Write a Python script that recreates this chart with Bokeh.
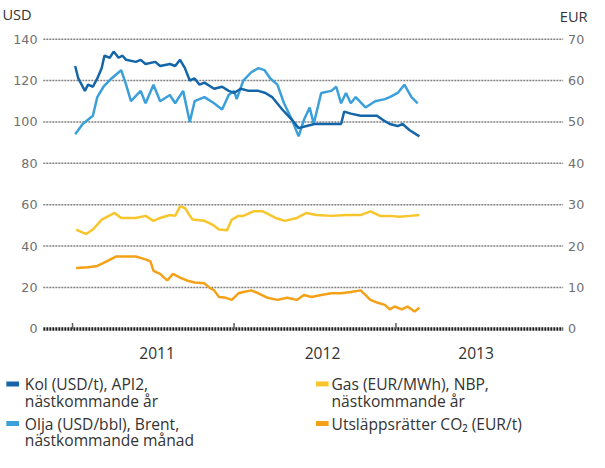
import pandas as pd
from bokeh.plotting import figure
from bokeh.models import Range1d
from bokeh.core.properties import value
from bokeh.embed import file_html
from bokeh.resources import INLINE

# ---------------- data ----------------
kol_dates = ["2011-01-07","2011-01-14","2011-01-29","2011-02-05","2011-02-16","2011-02-26","2011-03-08","2011-03-14",
             "2011-03-26","2011-04-04","2011-04-15","2011-04-24","2011-05-02","2011-05-24","2011-06-04","2011-06-15",
             "2011-07-07","2011-07-18","2011-08-09","2011-08-21","2011-09-01","2011-09-12","2011-09-23","2011-10-04",
             "2011-10-15","2011-10-26","2011-11-17","2011-12-05","2011-12-20","2012-01-01","2012-01-16","2012-02-03",
             "2012-02-25","2012-03-12","2012-03-27","2012-04-19","2012-05-11","2012-05-26","2012-06-13","2012-07-01",
             "2012-07-27","2012-08-30","2012-09-06","2012-09-21","2012-10-13","2012-11-04","2012-11-19","2012-12-02",
             "2012-12-18","2013-01-05","2013-01-16","2013-02-01","2013-02-23"]
kol = [127,121,115,118,117,121,126,132,131,134,131,132,130,129,130,128,129,127,128,127,
       130,126,120,121,118,119,116,117,115,114,116,115,115,114,112,106,101,97,98,99,
       99,99,105,104,103,103,103,101,99,98,99,96,93]

olja_dates = ["2011-01-07","2011-01-24","2011-02-16","2011-02-26","2011-03-12","2011-03-30","2011-04-21","2011-05-02",
              "2011-05-13","2011-06-04","2011-06-15","2011-07-03","2011-07-18","2011-08-09","2011-08-21","2011-09-08",
              "2011-09-23","2011-10-04","2011-10-26","2011-11-17","2011-12-05","2011-12-20","2012-01-01","2012-01-07",
              "2012-01-22","2012-02-09","2012-02-25","2012-03-10","2012-03-23","2012-04-08","2012-04-23","2012-05-11",
              "2012-05-26","2012-06-07","2012-06-20","2012-06-29","2012-07-16","2012-08-08","2012-08-19","2012-08-30",
              "2012-09-10","2012-09-21","2012-10-02","2012-10-24","2012-11-15","2012-12-07","2012-12-18","2013-01-05",
              "2013-01-20","2013-02-05","2013-02-19"]
olja = [94,99,103,112,117,121,125,118,110,115,109,118,110,113,109,115,100,110,112,109,
        106,113,115,111,120,124,126,125,121,118,109,101,93,101,107,99,114,115,117,109,
        114,109,112,107,110,111,112,114,118,112,109]

gas_dates = ["2011-01-09","2011-02-01","2011-02-16","2011-03-08","2011-04-06","2011-04-21","2011-05-24","2011-06-15",
             "2011-07-03","2011-07-18","2011-08-09","2011-08-21","2011-09-01","2011-09-12","2011-09-29","2011-10-26",
             "2011-11-13","2011-11-28","2011-12-16","2011-12-27","2012-01-11","2012-01-22","2012-02-14","2012-03-06",
             "2012-04-04","2012-04-25","2012-05-22","2012-06-13","2012-07-05","2012-08-08","2012-09-10","2012-10-13",
             "2012-11-04","2012-11-26","2012-12-18","2013-01-09","2013-02-01","2013-02-23"]
gas = [24.0,22.9,24.0,26.4,28.0,26.8,26.8,27.3,26.1,26.8,27.5,27.3,29.6,29.2,26.4,26.1,
       25.2,24.0,23.8,26.4,27.3,27.3,28.4,28.4,26.8,26.1,26.8,28.0,27.5,27.3,27.5,27.5,
       28.4,27.3,27.3,27.1,27.3,27.5]

co2_dates = ["2011-01-09","2011-02-05","2011-02-26","2011-03-19","2011-04-10","2011-05-02","2011-05-24","2011-06-15",
             "2011-06-26","2011-07-03","2011-07-18","2011-08-03","2011-08-16","2011-09-01","2011-09-16","2011-10-04",
             "2011-10-26","2011-11-06","2011-11-17","2011-11-28","2011-12-14","2011-12-27","2012-01-11","2012-01-22",
             "2012-02-09","2012-02-25","2012-03-17","2012-04-08","2012-04-30","2012-05-22","2012-06-07","2012-06-24",
             "2012-07-16","2012-08-08","2012-08-30","2012-09-21","2012-10-13","2012-10-24","2012-11-04","2012-11-21",
             "2012-12-07","2012-12-18","2012-12-29","2013-01-14","2013-01-27","2013-02-12","2013-02-23"]
co2 = [14.7,14.9,15.2,16.3,17.5,17.5,17.5,16.8,16.3,14.0,13.3,11.7,13.3,12.4,11.7,11.2,
       11.0,10.0,9.3,7.7,7.5,7.0,8.6,8.9,9.3,8.6,7.5,7.0,7.5,7.0,8.2,7.7,
       8.2,8.6,8.6,8.9,9.3,8.2,7.0,6.3,5.8,4.7,5.4,4.7,5.4,4.2,5.1]

usd_ticks = [0, 20, 40, 60, 80, 100, 120, 140]
eur_ticks = [0, 10, 20, 30, 40, 50, 60, 70]
year_starts = ["2011-01-01", "2012-01-01", "2013-01-01"]
year_labels = ["2011", "2012", "2013"]
year_label_dates = ["2011-07-11", "2012-07-19", "2013-07-01"]

legend_items = [
    ("Kol (USD/t), API2,", "nästkommande år", "#1466a8"),
    ("Olja (USD/bbl), Brent,", "nästkommande månad", "#3ba0da"),
    ("Gas (EUR/MWh), NBP,", "nästkommande år", "#f8c62b"),
    ("Utsläppsrätter CO₂ (EUR/t)", "", "#f5a117"),
]

# ---------------- layout helpers (reference-picture pixel -> data) ----------------
RW, RH = 605, 468          # reference picture size
W, H = 589, 452            # figure size (fits the window with the 8px margin)
x_start = pd.Timestamp("2010-10-27")
x_end = pd.Timestamp("2014-01-14")
FL, FR = 44, 578           # plot area in reference px
Y0, PXU = 340, 300 / 140   # baseline y and px per USD in reference px
ms_per_px = (x_end - x_start) / (FR - FL)
S = W / RW                 # uniform scale of texts/marks

def px_x(rx):
    return x_start + (rx - FL) * ms_per_px

def py_y(ry):
    return (Y0 - ry) / PXU

def fs(px):
    return f"{px * S:.1f}px"

p = figure(width=W, height=H, output_backend="svg", toolbar_location=None,
           x_axis_type="datetime", x_axis_location=None, y_axis_location=None,
           x_range=Range1d(px_x(0), px_x(RW)), y_range=Range1d(py_y(RH), py_y(0)),
           min_border=0, background_fill_color="white", border_fill_color="white")
p.outline_line_color = None
p.grid.visible = False
p.extra_y_ranges = {"eur": Range1d(py_y(RH) / 2, py_y(0) / 2)}

# grid lines
p.segment(x0=x_start, x1=x_end, y0=usd_ticks[1:], y1=usd_ticks[1:],
          line_color="#808080", line_width=1.5, line_dash="2 1")
# baseline
p.segment(x0=[x_start], x1=[x_end], y0=[0], y1=[0],
          line_color="#222222", line_width=3.5, line_dash="2 1")
# year start ticks
p.segment(x0=pd.to_datetime(year_starts), x1=pd.to_datetime(year_starts),
          y0=0, y1=6 / PXU, line_color="#606060", line_width=1.5)

tick_font = value("DejaVu Sans")
p.text(x=[px_x(38)] * len(usd_ticks), y=usd_ticks, text=[str(t) for t in usd_ticks],
       text_font=tick_font, text_font_size=fs(13), text_color="#707070",
       text_align="right", text_baseline="middle")
p.text(x=[px_x(583)] * len(eur_ticks), y=eur_ticks, text=[str(t) for t in eur_ticks],
       y_range_name="eur", text_font=tick_font, text_font_size=fs(13), text_color="#707070",
       text_align="left", text_baseline="middle")
p.text(x=pd.to_datetime(year_label_dates), y=[py_y(365)] * 3, text=year_labels,
       text_font=value("Open Sans"), text_font_size=fs(16), text_color="#333333",
       text_align="center", text_baseline="middle")

# series
p.line(pd.to_datetime(olja_dates), olja, line_color=legend_items[1][2], line_width=2.5)
p.line(pd.to_datetime(kol_dates), kol, line_color=legend_items[0][2], line_width=2.5)
p.line(pd.to_datetime(gas_dates), gas, line_color=legend_items[2][2], line_width=2.5, y_range_name="eur")
p.line(pd.to_datetime(co2_dates), co2, line_color=legend_items[3][2], line_width=2.5, y_range_name="eur")

def add_text(txt, rx, ry, size=16, align="left"):
    p.text(x=[px_x(rx)], y=[py_y(ry)], text=[txt], text_font=value("Open Sans"),
           text_font_size=fs(size), text_color="#333333", text_align=align, text_baseline="middle")

add_text("USD", 2, 14, size=15)
add_text("EUR", 603, 16, size=15, align="right")

rows = [(397, 415), (438, 455)]
cols = [(6, 25), (324, 340)]
for i, (l1, l2, col) in enumerate(legend_items):
    mx, tx = cols[i // 2]
    r1, r2 = rows[i % 2]
    p.rect(x=[px_x(mx + 6.5)], y=[py_y(r1)], width=13 * S, height=5, width_units="screen",
           height_units="screen", fill_color=col, line_color=None)
    add_text(l1, tx, r1)
    if l2:
        add_text(l2, tx, r2)

open("out.html", "w").write(file_html(p, INLINE))
